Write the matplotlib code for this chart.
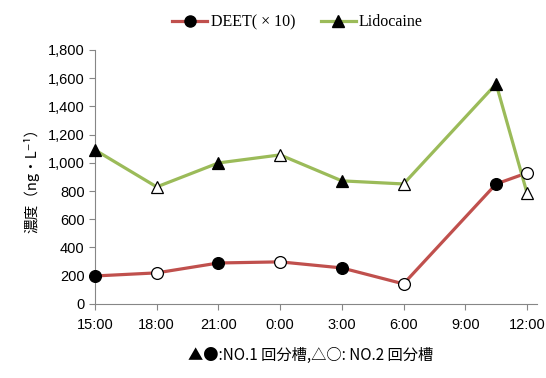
import matplotlib

matplotlib.use("Agg")

import matplotlib.pyplot as plt
from matplotlib.lines import Line2D
from matplotlib.ticker import FuncFormatter

# sampling times, hours after 15:00
hours = [0, 3, 6, 9, 12, 15, 19.5, 21]
# True = tank No.1 (filled marker), False = tank No.2 (open marker)
tank_no1 = [True, False, True, False, True, False, True, False]

deet_x10 = [198, 220, 290, 298, 255, 142, 850, 928]
lidocaine = [1091, 829, 999, 1056, 872, 850, 1559, 787]

tick_hours = [0, 3, 6, 9, 12, 15, 18, 21]
tick_labels = ["15:00", "18:00", "21:00", "0:00", "3:00", "6:00", "9:00", "12:00"]

red = "#C0504D"
green = "#9BBB59"
axis_gray = "#868686"
jp_font = ["Noto Sans CJK JP", "DejaVu Sans"]

fig = plt.figure(figsize=(5.46, 3.78), dpi=100)
ax = fig.add_axes([0.174, 0.196, 0.81, 0.672])


def draw_series(values, color, marker):
    ax.plot(hours, values, color=color, lw=2.3, zorder=2)
    for h, v, filled in zip(hours, values, tank_no1):
        ax.plot(h, v, marker=marker, ms=8.5 if marker == "o" else 9,
                mfc="black" if filled else "white", mec="black", mew=0.9,
                zorder=3, clip_on=False)


draw_series(deet_x10, red, "o")
draw_series(lidocaine, green, "^")

ax.set_xlim(0, 21.5)
ax.set_ylim(0, 1800)
ax.set_xticks(tick_hours)
ax.set_xticklabels(tick_labels)
ax.set_yticks(range(0, 1801, 200))
ax.yaxis.set_major_formatter(FuncFormatter(lambda v, p: f"{int(v):,}"))

for side in ("top", "right"):
    ax.spines[side].set_visible(False)
for side in ("left", "bottom"):
    ax.spines[side].set_color(axis_gray)
    ax.spines[side].set_linewidth(0.8)
ax.tick_params(axis="both", colors=axis_gray, length=4, width=0.8,
               labelcolor="black", labelsize=10.5)
for lab in ax.get_xticklabels() + ax.get_yticklabels():
    lab.set_family("Liberation Sans")
ax.tick_params(axis="x", pad=6)

ax.set_ylabel("濃度（ng・L⁻¹）", family=jp_font, fontsize=10.5, labelpad=6)

handles = [
    Line2D([], [], color=red, lw=2.3, marker="o", ms=8, mfc="black", mec="black"),
    Line2D([], [], color=green, lw=2.3, marker="^", ms=8, mfc="black", mec="black"),
]
fig.legend(handles, ["DEET( × 10)", "Lidocaine"], loc="upper center",
           bbox_to_anchor=(0.545, 1.0), ncol=2, frameon=False, handlelength=2.2,
           handletextpad=0.2, columnspacing=1.6,
           prop={"family": "Liberation Serif", "size": 11.5})

fig.text(0.568, 0.06, "▲●:NO.1 回分槽,△○: NO.2 回分槽", ha="center", va="center",
         family=jp_font, fontsize=11)

fig.savefig("out.png", dpi=100)
